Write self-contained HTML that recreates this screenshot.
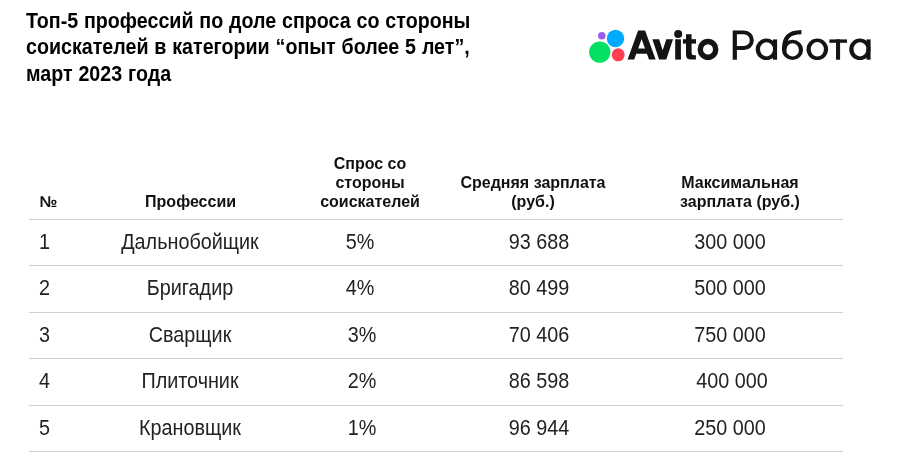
<!DOCTYPE html>
<html><head><meta charset="utf-8">
<style>
html,body{margin:0;padding:0;background:#fff;}
body{width:900px;height:459px;position:relative;overflow:hidden;font-family:"Liberation Sans",sans-serif;color:#1a1a1a;}
.title{position:absolute;left:26px;top:7.9px;word-spacing:0.44px;font-weight:bold;font-size:21.6px;line-height:26.5px;transform-origin:0 0;transform:scaleX(0.91);color:#000;white-space:nowrap;}
.logo{position:absolute;left:0;top:0;}
.hd{position:absolute;font-weight:bold;font-size:16px;line-height:19px;text-align:center;color:#111;white-space:nowrap;transform:translateX(-50%);}
.c{position:absolute;font-size:21.4px;line-height:22px;color:#222;white-space:nowrap;transform:translateX(-50%) scaleX(0.925);}
.n{position:absolute;font-size:21.4px;line-height:22px;color:#222;left:39px;transform-origin:0 0;transform:scaleX(0.925);}
.ln{position:absolute;left:29px;width:814px;height:1px;background:#d0d0d0;}
#w{position:absolute;left:0;top:0;width:900px;height:459px;will-change:transform;}
</style></head><body><div id="w">
<div class="title">Топ-5 профессий по доле спроса со стороны<br>соискателей в категории “опыт более 5 лет”,<br>март 2023 года</div>

<svg class="logo" width="900" height="110" viewBox="0 0 900 110">
<circle cx="601.8" cy="35.8" r="3.8" fill="#965EEB"/>
<circle cx="615.5" cy="38.5" r="8.7" fill="#0AF"/>
<circle cx="599.8" cy="52.1" r="10.7" fill="#04E061"/>
<circle cx="618.2" cy="54.8" r="6.5" fill="#FF4053"/>
<g fill="#141414" stroke="none">
<path fill-rule="evenodd" d="M627.6,59.6 L638.1,30.4 L645.1,30.4 L655.6,59.6 L649,59.6 L646.9,53.7 L636.3,53.7 L634.2,59.6 Z M638.2,48.4 L645,48.4 L641.6,39 Z"/>
<path d="M652.4,39.3 L659.1,39.3 L662.7,50.3 L666.3,39.3 L673,39.3 L666.3,59.6 L659.1,59.6 Z"/>
<rect x="675.2" y="39.3" width="5.7" height="20.3"/>
<circle cx="678.2" cy="34" r="4"/>
<path d="M686,34.2 H691.6 V52.8 Q691.6,55.3 694,55.3 H695.9 V59.6 H691.2 Q686,59.6 686,54.4 Z"/>
<rect x="682.9" y="39.2" width="13.1" height="4.4"/>
</g>
<g fill="#141414" stroke="none">
<path fill-rule="evenodd" d="M697.60,49.40 A10.4,10.7 0 1 0 718.40,49.40 A10.4,10.7 0 1 0 697.60,49.40 Z M703.00,49.40 A5.0,5.2 0 1 0 713.00,49.40 A5.0,5.2 0 1 0 703.00,49.40 Z"/>
<path fill-rule="evenodd" d="M732.7,30.5 H744 A9.8,9.75 0 0 1 744,50 H736.9 V59.7 H732.7 Z M736.9,34.3 H744 A5.8,5.9 0 0 1 744,46.1 H736.9 Z"/>
<path fill-rule="evenodd" d="M755.70,49.30 A10.65,10.75 0 1 0 777.00,49.30 A10.65,10.75 0 1 0 755.70,49.30 Z M760.05,49.30 A6.5,7.1 0 1 0 773.05,49.30 A6.5,7.1 0 1 0 760.05,49.30 Z"/><rect x="773.00" y="39.4" width="4.1" height="20.3"/>
<path fill-rule="evenodd" d="M781.90,49.85 A10.6,10.2 0 1 0 803.10,49.85 A10.6,10.2 0 1 0 781.90,49.85 Z M786.30,49.95 A6.3,6.6 0 1 0 798.90,49.95 A6.3,6.6 0 1 0 786.30,49.95 Z"/>
<path fill="none" stroke="#141414" stroke-width="4.4" d="M784.1,50 C784.1,37.5 788.5,32.3 801.4,32.1"/>
<path fill-rule="evenodd" d="M806.50,49.30 A10.8,10.7 0 1 0 828.10,49.30 A10.8,10.7 0 1 0 806.50,49.30 Z M810.70,49.30 A6.6,7.2 0 1 0 823.90,49.30 A6.6,7.2 0 1 0 810.70,49.30 Z"/>
<rect x="829.4" y="39.4" width="17.6" height="3.4"/><rect x="836" y="39.4" width="4.1" height="20.3"/>
<path fill-rule="evenodd" d="M849.20,49.30 A10.65,10.75 0 1 0 870.50,49.30 A10.65,10.75 0 1 0 849.20,49.30 Z M853.55,49.30 A6.5,7.1 0 1 0 866.55,49.30 A6.5,7.1 0 1 0 853.55,49.30 Z"/><rect x="866.50" y="39.4" width="4.1" height="20.3"/>
</g>
</svg>

<div class="hd" style="left:48.3px;top:192.2px;">№</div>
<div class="hd" style="left:190.6px;top:192.2px;">Профессии</div>
<div class="hd" style="left:370px;top:154.2px;">Спрос со<br>стороны<br>соискателей</div>
<div class="hd" style="left:533px;top:173.2px;">Средняя зарплата<br>(руб.)</div>
<div class="hd" style="left:740px;top:173.2px;">Максимальная<br>зарплата (руб.)</div>

<div class="ln" style="top:219px"></div>
<div class="ln" style="top:265px"></div>
<div class="ln" style="top:312px"></div>
<div class="ln" style="top:358px"></div>
<div class="ln" style="top:405px"></div>
<div class="ln" style="top:451px"></div>

<div class="n" style="top:230.55px">1</div>
<div class="c" style="left:190px;top:230.55px">Дальнобойщик</div>
<div class="c" style="left:360.1px;top:230.55px">5%</div>
<div class="c" style="left:539.2px;top:230.55px">93 688</div>
<div class="c" style="left:730px;top:230.55px">300 000</div>

<div class="n" style="top:276.55px">2</div>
<div class="c" style="left:190px;top:276.55px">Бригадир</div>
<div class="c" style="left:360.1px;top:276.55px">4%</div>
<div class="c" style="left:539.2px;top:276.55px">80 499</div>
<div class="c" style="left:730px;top:276.55px">500 000</div>

<div class="n" style="top:323.55px">3</div>
<div class="c" style="left:190px;top:323.55px">Сварщик</div>
<div class="c" style="left:361.9px;top:323.55px">3%</div>
<div class="c" style="left:539.2px;top:323.55px">70 406</div>
<div class="c" style="left:730px;top:323.55px">750 000</div>

<div class="n" style="top:369.55px">4</div>
<div class="c" style="left:190px;top:369.55px">Плиточник</div>
<div class="c" style="left:361.9px;top:369.55px">2%</div>
<div class="c" style="left:538.8px;top:369.55px">86 598</div>
<div class="c" style="left:731.5px;top:369.55px">400 000</div>

<div class="n" style="top:416.55px">5</div>
<div class="c" style="left:190px;top:416.55px">Крановщик</div>
<div class="c" style="left:361.9px;top:416.55px">1%</div>
<div class="c" style="left:539.2px;top:416.55px">96 944</div>
<div class="c" style="left:730px;top:416.55px">250 000</div>
</div></body></html>
